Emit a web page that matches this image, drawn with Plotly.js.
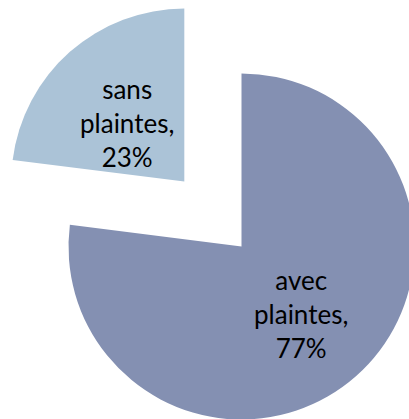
<!DOCTYPE html>
<html>
<head>
<meta charset="utf-8">
<script src="https://cdn.plot.ly/plotly-3.0.1.min.js"></script>
<style>
  html, body { margin: 0; padding: 0; width: 409px; height: 419px; overflow: hidden; background: #ffffff; }
  #chart { position: absolute; left: -18.5px; top: -13.5px; width: 519px; height: 519px; }
</style>
</head>
<body>
<div id="chart"></div>
<script>
const categories = ["avec<br>plaintes", "sans<br>plaintes"];
const shares = [77, 23];
const sliceColors = ["#8490B2", "#ABC3D7"];
const pulls = [0, 0.5];
// label anchor points (paper fraction) for each slice's text
const labelX = [0.6156, 0.2803];
const labelY = [0.3690, 0.7389];

const trace = {
  type: "pie",
  labels: categories,
  values: shares,
  sort: false,
  direction: "clockwise",
  rotation: 0,
  pull: pulls,
  marker: { colors: sliceColors, line: { width: 0 } },
  textinfo: "none",
  hoverinfo: "none",
  showlegend: false
};

const total = shares.reduce((a, b) => a + b, 0);
const annotations = categories.map((c, i) => ({
  xref: "paper", yref: "paper",
  x: labelX[i], y: labelY[i],
  xanchor: "center", yanchor: "middle",
  showarrow: false,
  align: "center",
  text: c + ",<br>" + Math.round(shares[i] / total * 100) + "%",
  font: { family: "Lato, sans-serif", size: 26, color: "#000000" }
}));

const layout = {
  width: 519,
  height: 519,
  margin: { l: 0, r: 0, t: 0, b: 0 },
  paper_bgcolor: "#ffffff",
  annotations: annotations,
  showlegend: false
};

Plotly.newPlot("chart", [trace], layout, { staticPlot: true, displayModeBar: false });
</script>
</body>
</html>
